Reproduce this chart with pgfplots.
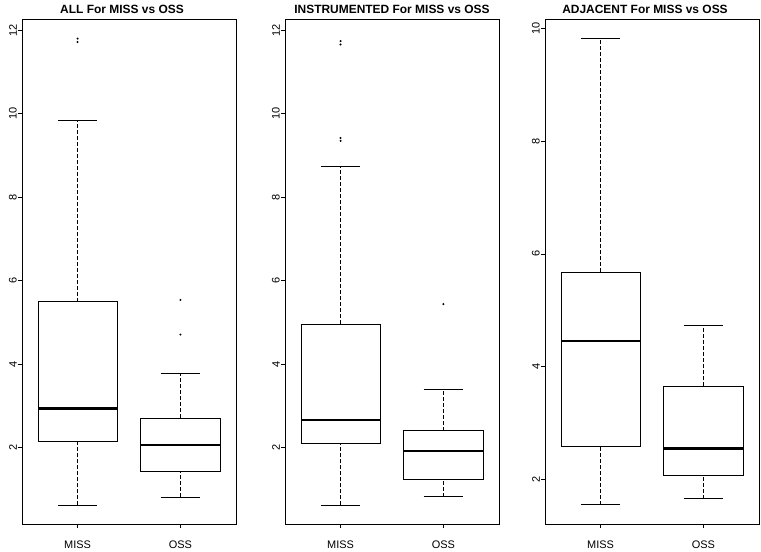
\documentclass[border=0pt]{standalone}
\usepackage{fontspec}
\setmainfont{Liberation Sans}
\usepackage{pgfplots}
\pgfplotsset{compat=1.18}
\usepgfplotslibrary{statistics}

\pgfplotsset{
  boxplot/draw/lower whisker/.code={%
    \draw[dash pattern=on 4bp off 2bp]
      (boxplot box cs:\pgfplotsboxplotvalue{lower whisker},0.5) --
      (boxplot box cs:\pgfplotsboxplotvalue{lower quartile},0.5);
    \draw[solid]
      (boxplot whisker cs:\pgfplotsboxplotvalue{lower whisker},0) --
      (boxplot whisker cs:\pgfplotsboxplotvalue{lower whisker},1);
  },
  boxplot/draw/upper whisker/.code={%
    \draw[dash pattern=on 4bp off 2bp]
      (boxplot box cs:\pgfplotsboxplotvalue{upper quartile},0.5) --
      (boxplot box cs:\pgfplotsboxplotvalue{upper whisker},0.5);
    \draw[solid]
      (boxplot whisker cs:\pgfplotsboxplotvalue{upper whisker},0) --
      (boxplot whisker cs:\pgfplotsboxplotvalue{upper whisker},1);
  },
  rbox/.style={
    width=214bp, height=505bp, scale only axis,
    anchor=south west,
    xmin=0.46, xmax=2.54,
    xtick={1,2}, xticklabels={MISS,OSS},
    tick pos=left,
    tick align=outside,
    major tick length=4bp,
    tick style={black, line width=0.6bp},
    axis line style={black, line width=0.8bp},
    /pgf/number format/assume math mode=true,
    ticklabel style={font=\fontsize{11}{13}\selectfont},
    yticklabel style={rotate=90, anchor=south, inner sep=0pt},
    xticklabel style={anchor=north, inner sep=0pt},
    yticklabel shift=1bp,
    xticklabel shift=13bp,
    title style={font=\bfseries\fontsize{12}{14}\selectfont, at={(0.5,1)}, anchor=base, inner sep=0pt, yshift=0bp},
    boxplot/draw direction=y,
    boxplot/box extend=0.77,
    boxplot/whisker extend=0.385,
    boxplot/every median/.style={line width=2.4bp},
  },
  rplot/.style={black, line width=0.8bp, solid, mark=*, mark size=0.55bp, mark options={solid, fill=black}},
}

\begin{document}
\begin{tikzpicture}
\useasboundingbox (0,0) rectangle (761bp,552bp);

% Panel 1
\begin{axis}[rbox, at={(22bp,28bp)}, ymin=0.172, ymax=12.27, ytick={2,4,6,8,10,12},
  title={ALL For MISS vs OSS}, title style={xshift=-7bp}]
\addplot[rplot, boxplot prepared={draw position=1, lower whisker=0.62, lower quartile=2.15, median=2.94, upper quartile=5.50, upper whisker=9.83}]
  table[row sep=\\, y index=0] {v\\ 11.72\\ 11.80\\};
\addplot[rplot, boxplot prepared={draw position=2, lower whisker=0.82, lower quartile=1.44, median=2.06, upper quartile=2.71, upper whisker=3.77}]
  table[row sep=\\, y index=0] {v\\ 4.71\\ 5.54\\};
\end{axis}

% Panel 2
\begin{axis}[rbox, at={(285bp,28bp)}, ymin=0.172, ymax=12.27, ytick={2,4,6,8,10,12},
  title={INSTRUMENTED For MISS vs OSS}]
\addplot[rplot, boxplot prepared={draw position=1, lower whisker=0.62, lower quartile=2.10, median=2.66, upper quartile=4.96, upper whisker=8.73}]
  table[row sep=\\, y index=0] {v\\ 9.35\\ 9.42\\ 11.66\\ 11.74\\};
\addplot[rplot, boxplot prepared={draw position=2, lower whisker=0.83, lower quartile=1.23, median=1.92, upper quartile=2.41, upper whisker=3.40}]
  table[row sep=\\, y index=0] {v\\ 5.44\\};
\end{axis}

% Panel 3
\begin{axis}[rbox, at={(545bp,28bp)}, ymin=1.21, ymax=10.165, ytick={2,4,6,8,10},
  title={ADJACENT For MISS vs OSS}, title style={xshift=-7bp}]
\addplot[rplot, boxplot prepared={draw position=1, lower whisker=1.55, lower quartile=2.59, median=4.46, upper quartile=5.67, upper whisker=9.82}]
  coordinates {};
\addplot[rplot, boxplot prepared={draw position=2, lower whisker=1.66, lower quartile=2.07, median=2.55, upper quartile=3.65, upper whisker=4.73}]
  coordinates {};
\end{axis}
\end{tikzpicture}
\end{document}
